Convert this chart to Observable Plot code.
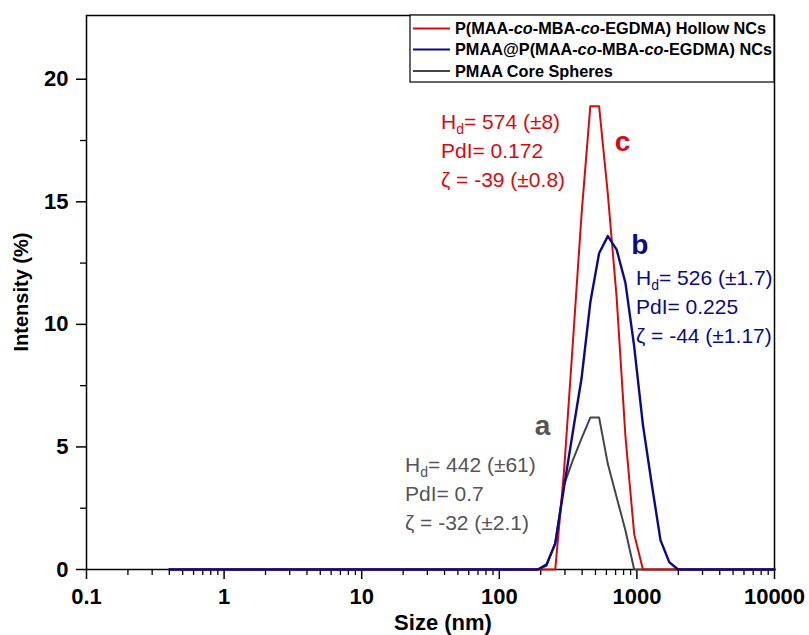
<!DOCTYPE html>
<html><head><meta charset="utf-8">
<script src="https://cdn.jsdelivr.net/npm/d3@7"></script>
<script src="https://cdn.jsdelivr.net/npm/@observablehq/plot@0.6"></script>
<style>
body{margin:0;background:#fff;}
#chart svg{display:block;}
</style></head><body><div id="chart"></div>
<script>
// Size bins (nm)
const sizeNm = [0.4,0.4632,0.5365,0.6213,0.7195,0.8332,0.9649,1.117,1.294,1.499,
  1.736,2.01,2.328,2.696,3.122,3.615,4.187,4.849,5.615,6.503,
  7.531,8.721,10.1,11.7,13.54,15.69,18.17,21.04,24.36,28.21,
  32.67,37.84,43.82,50.75,58.77,68.06,78.82,91.28,105.7,122.4,
  141.8,164.2,190.1,220.2,255.0,295.3,342.0,396.1,458.7,531.2,
  615.1,712.4,825.0,955.4,1106,1281,1484,1718,1990,2305,
  2669,3091,3580,4145,4801,5560,6439,7456,8635,10000];
// (c) P(MAA-co-MBA-co-EGDMA) Hollow NCs
const hollowNCs = [0,0,0,0,0,0,0,0,0,0,
  0,0,0,0,0,0,0,0,0,0,
  0,0,0,0,0,0,0,0,0,0,
  0,0,0,0,0,0,0,0,0,0,
  0,0,0,0,0,4.0,9.2,14.5,18.9,18.9,
  15.3,11.1,5.45,1.45,0,0,0,0,0,0,
  0,0,0,0,0,0,0,0,0,0];
// (b) PMAA@P(MAA-co-MBA-co-EGDMA) NCs
const coreShellNCs = [0,0,0,0,0,0,0,0,0,0,
  0,0,0,0,0,0,0,0,0,0,
  0,0,0,0,0,0,0,0,0,0,
  0,0,0,0,0,0,0,0,0,0,
  0,0,0,0.2,1.05,3.35,5.6,7.8,10.9,12.9,
  13.6,13.05,11.7,9.1,5.9,3.5,1.2,0.3,0,0,
  0,0,0,0,0,0,0,0,0,0];
// (a) PMAA Core Spheres
const coreSpheres = [0,0,0,0,0,0,0,0,0,0,
  0,0,0,0,0,0,0,0,0,0,
  0,0,0,0,0,0,0,0,0,0,
  0,0,0,0,0,0,0,0,0,0,
  0,0,0,0.15,1.1,3.45,4.45,5.35,6.2,6.2,
  4.3,2.95,1.6,0,0,0,0,0,0,0,
  0,0,0,0,0,0,0,0,0,0];

const xTickValues = [0.1, 1, 10, 100, 1000, 10000];
const xTickLabels = ["0.1", "1", "10", "100", "1000", "10000"];
const yTickValues = [0, 5, 10, 15, 20];
const yTickLabels = ["0", "5", "10", "15", "20"];
const yMinorTicks = [2.5, 7.5, 12.5, 17.5];
const xLabel = "Size (nm)";
const yLabel = "Intensity (%)";

const letters = ["c", "b", "a"];
const hdText = ["574 (±8)", "526 (±1.7)", "442 (±61)"];
const pdiText = ["0.172", "0.225", "0.7"];
const zetaText = ["-39 (±0.8)", "-44 (±1.17)", "-32 (±2.1)"];

// styles / layout (not data)
const RED = "#d30d0d", BLUE = "#0b0b86", GRAY = "#464646", GRAYTXT = "#555555";
const FONT = "Arial, 'Liberation Sans', sans-serif";
const letterPos = [{x: 792, y: 17.07}, {x: 1060, y: 12.87}, {x: 207.8, y: 5.46}];
const blockPos = [{x: 38.0, y: 17.96}, {x: 993, y: 11.57}, {x: 20.8, y: 3.95}];
const seriesColors = [RED, BLUE, GRAY];
const textColors = [RED, BLUE, GRAYTXT];

const xMinor = [];
for (let e = -1; e < 4; e++) for (let k = 2; k <= 9; k++) xMinor.push(k * Math.pow(10, e));

const toRows = (vals) => vals.map((v, i) => ({size: sizeNm[i], intensity: v}));

const chart = Plot.plot({
  width: 809, height: 635,
  marginLeft: 86, marginRight: 35, marginTop: 15, marginBottom: 66,
  style: {fontFamily: FONT, background: "white", color: "black", overflow: "visible"},
  x: {type: "log", domain: [0.1, 10000]},
  y: {domain: [0, 22.6]},
  marks: [
    Plot.axisX({ticks: xMinor, tickSize: 6, tickFormat: () => "", label: null, strokeWidth: 1.3}),
    Plot.axisX({ticks: xTickValues, tickSize: 10, tickPadding: 9, label: null, strokeWidth: 1.5,
      tickFormat: d => xTickLabels[xTickValues.indexOf(d)], fontSize: 22, fontWeight: "bold"}),
    Plot.axisY({ticks: yMinorTicks, tickSize: 6, tickFormat: () => "", label: null, strokeWidth: 1.3}),
    Plot.axisY({ticks: yTickValues, tickSize: 10, tickPadding: 8, label: null, strokeWidth: 1.5,
      tickFormat: d => yTickLabels[yTickValues.indexOf(d)], fontSize: 22, fontWeight: "bold"}),
    Plot.frame({stroke: "black", strokeWidth: 1.5}),
    Plot.line(toRows(coreSpheres), {x: "size", y: "intensity", stroke: GRAY, strokeWidth: 2}),
    Plot.line(toRows(hollowNCs), {x: "size", y: "intensity", stroke: RED, strokeWidth: 2}),
    Plot.line(toRows(coreShellNCs), {x: "size", y: "intensity", stroke: BLUE, strokeWidth: 2.4})
  ]
});
document.getElementById("chart").appendChild(chart);

const svg = d3.select(chart);
const sx = chart.scale("x"), sy = chart.scale("y");
const g = svg.append("g").attr("font-family", FONT).attr("text-anchor", "start");

// axis titles
g.append("text").attr("x", 443).attr("y", 630).attr("text-anchor", "middle")
  .attr("font-size", 22).attr("font-weight", "bold").text(xLabel);
g.append("text").attr("transform", "translate(28,292) rotate(-90)").attr("text-anchor", "middle")
  .attr("font-size", 20).attr("font-weight", "bold").text(yLabel);

// annotations
const LS = 29;
letters.forEach((L, i) => {
  g.append("text").attr("x", sx.apply(letterPos[i].x)).attr("y", sy.apply(letterPos[i].y))
    .attr("text-anchor", "middle").attr("font-size", 28).attr("font-weight", "bold")
    .attr("fill", textColors[i]).text(L);
  const x0 = sx.apply(blockPos[i].x), y0 = sy.apply(blockPos[i].y);
  const t1 = g.append("text").attr("x", x0).attr("y", y0).attr("text-anchor", "start")
    .attr("font-size", 21).attr("fill", textColors[i]);
  t1.append("tspan").text("H");
  t1.append("tspan").attr("font-size", 14).attr("dy", 5).text("d");
  t1.append("tspan").attr("dy", -5).text("= " + hdText[i]);
  g.append("text").attr("x", x0).attr("y", y0 + LS).attr("text-anchor", "start")
    .attr("font-size", 21).attr("fill", textColors[i]).text("PdI= " + pdiText[i]);
  g.append("text").attr("x", x0).attr("y", y0 + 2 * LS).attr("text-anchor", "start")
    .attr("font-size", 21).attr("fill", textColors[i]).text("ζ = " + zetaText[i]);
});

// legend
const legendParts = [
  [["P(MAA-", false], ["co", true], ["-MBA-", false], ["co", true], ["-EGDMA) Hollow NCs", false]],
  [["PMAA@P(MAA-", false], ["co", true], ["-MBA-", false], ["co", true], ["-EGDMA) NCs", false]],
  [["PMAA Core Spheres", false]]
];
const lg = g.append("g");
lg.append("rect").attr("x", 410).attr("y", 15).attr("width", 364).attr("height", 67)
  .attr("fill", "white").attr("stroke", "black").attr("stroke-width", 1.2);
const rowY = [28.5, 49.5, 71];
legendParts.forEach((parts, i) => {
  lg.append("line").attr("x1", 413).attr("x2", 450).attr("y1", rowY[i]).attr("y2", rowY[i])
    .attr("stroke", seriesColors[i]).attr("stroke-width", 2);
  const t = lg.append("text").attr("x", 455).attr("y", rowY[i] + 5.8).attr("text-anchor", "start")
    .attr("font-size", 16.3).attr("font-weight", "bold");
  parts.forEach(([s, it]) => {
    const sp = t.append("tspan").text(s);
    if (it) sp.attr("font-style", "italic");
  });
});
</script></body></html>
